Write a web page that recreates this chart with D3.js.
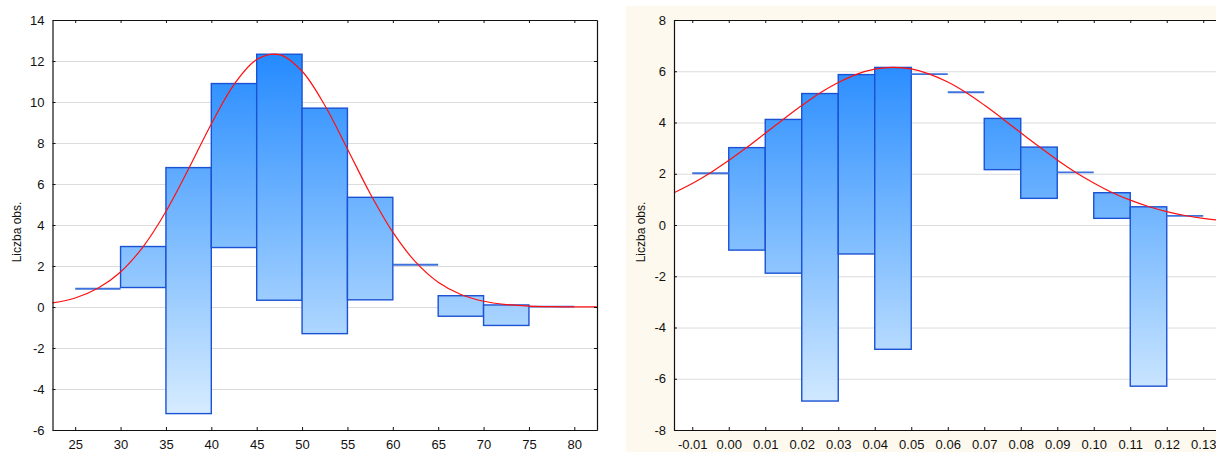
<!DOCTYPE html>
<html>
<head>
<meta charset="utf-8">
<script src="https://cdn.jsdelivr.net/npm/d3@7"></script>
<style>
  html, body { margin: 0; padding: 0; background: #fff; }
  svg { display: block; }
  text { font-family: "Liberation Sans", Arial, sans-serif; fill: #111; }
</style>
</head>
<body>
<svg id="chart" width="1216" height="452"></svg>
<script>
// ---- Left histogram: bins of width 5 ----
const leftBinStarts = [25, 30, 35, 40, 45, 50, 55, 60, 65, 70, 75];
const leftExpected  = [0.89, 2.95, 6.8, 10.9, 12.33, 9.7, 5.35, 2.06, 0.55, 0.1, 0.02];
const leftObserved  = [0, 2, 12, 8, 12, 11, 5, 0, 1, 1, 0];
const leftBinWidth = 5;
const leftCurveX = [22.5, 25, 27.5, 30, 32.5, 35, 37.5, 40, 42.5, 45, 47.5, 50, 52.5, 55,
                    57.5, 60, 62.5, 65, 67.5, 70, 72.5, 75, 77.5, 80, 82.5];
const leftCurveY = [0.20, 0.44, 0.91, 1.71, 2.95, 4.66, 6.74, 8.93, 10.85, 12.07, 12.31, 11.50,
                    9.84, 7.71, 5.54, 3.65, 2.20, 1.21, 0.61, 0.28, 0.12, 0.047, 0.017, 0.005, 0.002];
const leftXTicks = [25, 30, 35, 40, 45, 50, 55, 60, 65, 70, 75, 80];
const leftYTicks = [-6, -4, -2, 0, 2, 4, 6, 8, 10, 12, 14];

// ---- Right histogram: bins of width 0.01 ----
const rightBinStarts = [-0.01, 0.00, 0.01, 0.02, 0.03, 0.04, 0.05, 0.06, 0.07, 0.08, 0.09, 0.10, 0.11, 0.12];
const rightExpected  = [2.02, 3.02, 4.12, 5.13, 5.87, 6.15, 5.89, 5.18, 4.16, 3.04, 2.05, 1.26, 0.71, 0.36];
const rightObserved  = [0, 4, 6, 12, 7, 11, 0, 0, 2, 2, 0, 1, 7, 0];
const rightBinWidth = 0.01;
const rightCurveX = [-0.015, -0.010, -0.005, 0.000, 0.005, 0.010, 0.015, 0.020, 0.025, 0.030, 0.035,
                     0.040, 0.045, 0.050, 0.055, 0.060, 0.065, 0.070, 0.075, 0.080, 0.085, 0.090,
                     0.095, 0.100, 0.105, 0.110, 0.115, 0.120, 0.125, 0.130, 0.135];
const rightCurveY = [1.26, 1.62, 2.04, 2.52, 3.03, 3.58, 4.13, 4.66, 5.15, 5.56, 5.88,
                     6.08, 6.15, 6.09, 5.89, 5.58, 5.17, 4.68, 4.15, 3.60, 3.06, 2.54,
                     2.06, 1.64, 1.27, 0.97, 0.72, 0.52, 0.37, 0.26, 0.18];
const rightXTicks = ["-0.01", "0.00", "0.01", "0.02", "0.03", "0.04", "0.05", "0.06", "0.07",
                     "0.08", "0.09", "0.10", "0.11", "0.12", "0.13"];
const rightYTicks = [-8, -6, -4, -2, 0, 2, 4, 6, 8];

const yLabel = "Liczba obs.";

const svg = d3.select("#chart");

// light cream backdrop behind the second panel
svg.append("rect").attr("x", 626).attr("y", 6).attr("width", 590).attr("height", 446)
  .attr("fill", "#fdf9ee");

// shared vertical gradient for bar fills (user space of the plot area)
const defs = svg.append("defs");
const grad = defs.append("linearGradient").attr("id", "barFill")
  .attr("gradientUnits", "userSpaceOnUse")
  .attr("x1", 0).attr("x2", 0).attr("y1", 20).attr("y2", 430);
grad.append("stop").attr("offset", "0%").attr("stop-color", "#1481ff");
grad.append("stop").attr("offset", "50%").attr("stop-color", "#78b9ff");
grad.append("stop").attr("offset", "100%").attr("stop-color", "#def0ff");

function panel(opt) {
  const x = d3.scaleLinear().domain(opt.xDomain).range([opt.left, opt.right]);
  const y = d3.scaleLinear().domain(opt.yDomain).range([opt.bottom, opt.top]);
  const g = svg.append("g");

  // white plot area
  g.append("rect").attr("x", opt.left).attr("y", opt.top)
    .attr("width", opt.right - opt.left).attr("height", opt.bottom - opt.top)
    .attr("fill", "#fff");

  // horizontal grid
  g.append("g").attr("transform", `translate(${opt.left},0)`)
    .call(d3.axisLeft(y).tickValues(opt.yTicks.filter(v => v > opt.yDomain[0] && v < opt.yDomain[1]))
      .tickSize(-(opt.right - opt.left)).tickFormat(""))
    .call(a => a.select(".domain").remove())
    .call(a => a.selectAll("line").attr("stroke", "#dcdcdc").attr("stroke-width", 1));

  const bins = opt.starts.map((s, i) => ({
    x0: s, x1: s + opt.width, top: opt.expected[i], bottom: opt.expected[i] - opt.observed[i],
    obs: opt.observed[i]
  }));

  // hanging bars
  g.append("g").selectAll("rect").data(bins.filter(d => d.obs > 0)).join("rect")
    .attr("x", d => x(d.x0)).attr("width", d => x(d.x1) - x(d.x0))
    .attr("y", d => y(d.top)).attr("height", d => y(d.bottom) - y(d.top))
    .attr("fill", "url(#barFill)")
    .attr("stroke", "#1b52d4").attr("stroke-width", 1.4);

  // empty bins shown as a line at the expected count
  g.append("g").selectAll("line").data(bins.filter(d => d.obs === 0)).join("line")
    .attr("x1", d => x(d.x0)).attr("x2", d => x(d.x1))
    .attr("y1", d => y(d.top)).attr("y2", d => y(d.top))
    .attr("stroke", "#3f72dc").attr("stroke-width", 1.8);

  // fitted normal curve
  const pts = opt.curveX.map((v, i) => [v, opt.curveY[i]]);
  g.append("path").datum(pts)
    .attr("d", d3.line().x(d => x(d[0])).y(d => y(d[1])).curve(d3.curveCatmullRom))
    .attr("fill", "none").attr("stroke", "#ff1010").attr("stroke-width", 1.2);

  // axes with small inward ticks
  const styleAxis = a => {
    a.select(".domain").attr("stroke", "#111").attr("stroke-width", 1.2);
    a.selectAll(".tick line").attr("stroke", "#111");
    a.selectAll("text").style("font-size", "13px").attr("fill", "#111")
      .style("font-family", '"Liberation Sans", Arial, sans-serif');
  };
  const xTickVals = opt.xTicks.map(Number);
  const fmt = d => opt.xTickLabels[xTickVals.indexOf(d)];

  g.append("g").attr("transform", `translate(0,${opt.bottom})`)
    .call(d3.axisBottom(x).tickValues(xTickVals).tickFormat(fmt).tickSizeInner(-3).tickSizeOuter(0).tickPadding(10))
    .call(styleAxis);
  g.append("g").attr("transform", `translate(0,${opt.top})`)
    .call(d3.axisTop(x).tickValues(xTickVals).tickFormat("").tickSizeInner(-3).tickSizeOuter(0))
    .call(styleAxis);
  g.append("g").attr("transform", `translate(${opt.left},0)`)
    .call(d3.axisLeft(y).tickValues(opt.yTicks).tickFormat(d => String(d))
      .tickSizeInner(-3).tickSizeOuter(0).tickPadding(8))
    .call(styleAxis);
  g.append("g").attr("transform", `translate(${opt.right},0)`)
    .call(d3.axisRight(y).tickValues(opt.yTicks).tickFormat("").tickSizeInner(-3).tickSizeOuter(0))
    .call(styleAxis);

  // y-axis title
  g.append("text")
    .attr("transform", `translate(${opt.labelX},${(opt.top + opt.bottom) / 2 + 7}) rotate(-90)`)
    .attr("text-anchor", "middle").attr("dy", "0.35em")
    .style("font-size", "12px").text(yLabel);
}

panel({
  left: 52.5, right: 597, top: 20, bottom: 430,
  xDomain: [22.5, 82.5], yDomain: [-6, 14],
  starts: leftBinStarts, expected: leftExpected, observed: leftObserved, width: leftBinWidth,
  curveX: leftCurveX, curveY: leftCurveY,
  xTicks: leftXTicks, xTickLabels: leftXTicks.map(String), yTicks: leftYTicks,
  labelX: 17
});

panel({
  left: 674, right: 1221.5, top: 20, bottom: 430,
  xDomain: [-0.015, 0.135], yDomain: [-8, 8],
  starts: rightBinStarts, expected: rightExpected, observed: rightObserved, width: rightBinWidth,
  curveX: rightCurveX, curveY: rightCurveY,
  xTicks: rightXTicks, xTickLabels: rightXTicks, yTicks: rightYTicks,
  labelX: 641
});
</script>
</body>
</html>
